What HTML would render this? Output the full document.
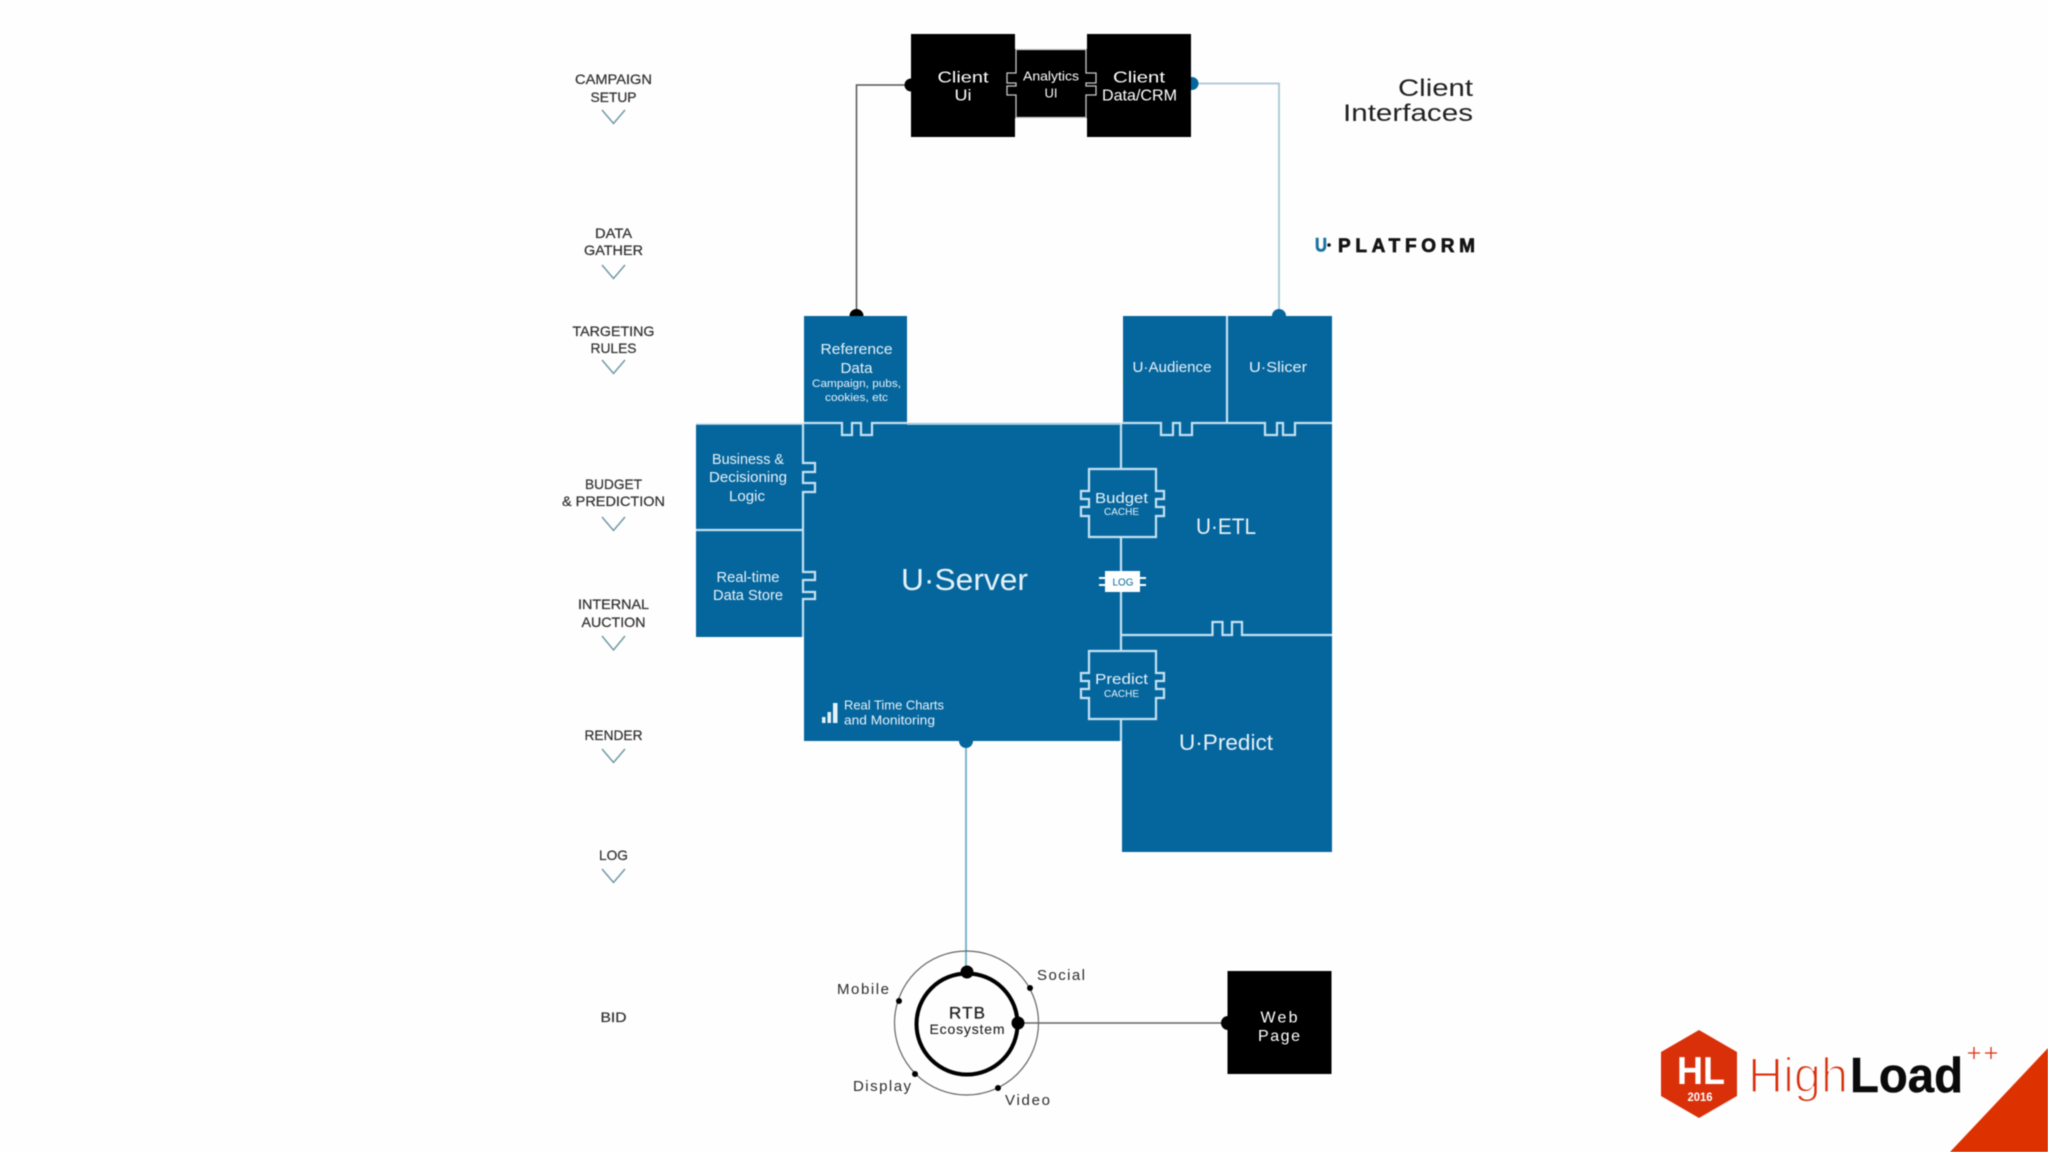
<!DOCTYPE html>
<html lang="en">
<head>
<meta charset="utf-8">
<title>U Platform diagram</title>
<style>
html,body{margin:0;padding:0;background:#fefefe;width:2048px;height:1152px;overflow:hidden}
svg{display:block;filter:blur(0.45px)}
text{font-family:"Liberation Sans",sans-serif}
.s{fill:#333;font-size:14px;text-anchor:middle;stroke:#333;stroke-width:.25px}
.w{fill:#e6f1f7;text-anchor:middle}
.b{fill:#fff;text-anchor:middle}
.k{fill:#2c2c2c;text-anchor:middle;font-size:15px}
.chev{fill:none;stroke:#7199a6;stroke-width:1.5}
.ln{fill:none;stroke:#c4e2f2;stroke-width:2.2}
</style>
</head>
<body>
<svg width="2048" height="1152" viewBox="0 0 2048 1152" xmlns="http://www.w3.org/2000/svg">
<rect width="2048" height="1152" fill="#fefefe"/>

<!-- left stage labels -->
<g>
<text class="s" x="613.5" y="84" textLength="77" lengthAdjust="spacingAndGlyphs">CAMPAIGN</text>
<text class="s" x="613.5" y="102" textLength="46" lengthAdjust="spacingAndGlyphs">SETUP</text>
<path class="chev" d="M602 110L613.5 123.500L625 110"/>
<text class="s" x="613.5" y="238" textLength="37" lengthAdjust="spacingAndGlyphs">DATA</text>
<text class="s" x="613.5" y="255" textLength="59" lengthAdjust="spacingAndGlyphs">GATHER</text>
<path class="chev" d="M602 265L613.5 278.500L625 265"/>
<text class="s" x="613.5" y="336" textLength="82" lengthAdjust="spacingAndGlyphs">TARGETING</text>
<text class="s" x="613.5" y="353" textLength="46" lengthAdjust="spacingAndGlyphs">RULES</text>
<path class="chev" d="M602 360L613.5 373.500L625 360"/>
<text class="s" x="613.5" y="489" textLength="57" lengthAdjust="spacingAndGlyphs">BUDGET</text>
<text class="s" x="613.5" y="506" textLength="103" lengthAdjust="spacingAndGlyphs">&amp; PREDICTION</text>
<path class="chev" d="M602 517L613.5 530.500L625 517"/>
<text class="s" x="613.5" y="609" textLength="71" lengthAdjust="spacingAndGlyphs">INTERNAL</text>
<text class="s" x="613.5" y="627" textLength="64" lengthAdjust="spacingAndGlyphs">AUCTION</text>
<path class="chev" d="M602 636L613.5 650L625 636"/>
<text class="s" x="613.5" y="740" textLength="58" lengthAdjust="spacingAndGlyphs">RENDER</text>
<path class="chev" d="M602 749L613.5 762.500L625 749"/>
<text class="s" x="613.5" y="860" textLength="29" lengthAdjust="spacingAndGlyphs">LOG</text>
<path class="chev" d="M602 869L613.5 882.500L625 869"/>
<text class="s" x="613.5" y="1022" textLength="26" lengthAdjust="spacingAndGlyphs">BID</text>
</g>

<!-- connectors -->
<path d="M911 85H856.500V313" fill="none" stroke="#555" stroke-width="1.5"/>
<path d="M1191 83.500H1279V313" fill="none" stroke="#a9c8d4" stroke-width="1.8"/>
<path d="M966 741V972" fill="none" stroke="#7db6cb" stroke-width="2"/>
<path d="M1018 1023H1228" fill="none" stroke="#666" stroke-width="1.5"/>
<circle cx="911" cy="85" r="6.500" fill="#000"/>
<circle cx="1192" cy="83.500" r="6.500" fill="#05669e"/>
<circle cx="856.500" cy="316" r="7" fill="#000"/>
<circle cx="1279" cy="316" r="7" fill="#05669e"/>
<circle cx="966" cy="741" r="7" fill="#05669e"/>

<!-- client boxes -->
<rect x="911" y="34" width="104" height="103" fill="#000"/>
<rect x="1087" y="34" width="104" height="103" fill="#000"/>
<rect x="1015" y="49" width="72" height="69" fill="#000"/>
<path d="M1016 49.500H1086V73H1096V83H1086V86H1096V95H1086V117.500H1016V95H1007V86H1016V83H1007V73H1016Z" fill="#000" stroke="#c8c8c8" stroke-width="1.300"/>
<text class="b" x="963" y="82.500" font-size="16" textLength="51" lengthAdjust="spacingAndGlyphs">Client</text>
<text class="b" x="963" y="100.500" font-size="16" textLength="17" lengthAdjust="spacingAndGlyphs">Ui</text>
<text class="b" x="1051" y="80.500" font-size="13" textLength="56" lengthAdjust="spacingAndGlyphs">Analytics</text>
<text class="b" x="1051" y="97.500" font-size="13" textLength="13" lengthAdjust="spacingAndGlyphs">UI</text>
<text class="b" x="1139" y="82.500" font-size="16" textLength="52" lengthAdjust="spacingAndGlyphs">Client</text>
<text class="b" x="1139.500" y="100.500" font-size="16" textLength="75" lengthAdjust="spacingAndGlyphs">Data/CRM</text>

<!-- titles -->
<text x="1473" y="96" font-size="24" fill="#222" text-anchor="end" textLength="75" lengthAdjust="spacingAndGlyphs">Client</text>
<text x="1473" y="121" font-size="24" fill="#222" text-anchor="end" textLength="130" lengthAdjust="spacingAndGlyphs">Interfaces</text>
<text x="1315" y="251.500" font-size="19" font-weight="700" fill="#1a729f" stroke="#1a729f" stroke-width=".6" textLength="12" lengthAdjust="spacingAndGlyphs">U</text>
<circle cx="1329" cy="245" r="1.800" fill="#111"/>
<text x="1338" y="252" font-size="19" font-weight="700" fill="#151515" stroke="#151515" stroke-width=".7" textLength="137" lengthAdjust="spacing">PLATFORM</text>

<!-- blue blocks -->
<g fill="#05669e">
<rect x="804" y="316" width="103" height="108"/>
<rect x="1123" y="316" width="209" height="108"/>
<rect x="696" y="424" width="108" height="213"/>
<rect x="804" y="423" width="318" height="318"/>
<rect x="1122" y="423" width="210" height="429"/>
</g>

<!-- block dividers and notches -->
<g>
<path class="ln" d="M804 423H842V435H852V423H861V435H872V423H907"/>
<path class="ln" d="M1122 423H1161V435H1173V423H1180V435H1192V423H1265V435H1277V423H1283V435H1295V423H1332"/>
<path class="ln" d="M907 424H1122" style="stroke-width:1.500"/>
<path class="ln" d="M696 424H804" style="stroke-width:1.500"/>
<path class="ln" d="M1227 316V423"/>
<path class="ln" d="M803 423V463H815V472H803V483H815V492H803V572H815V580H803V592H815V599H803V637"/>
<path class="ln" d="M696 530H803"/>
<path class="ln" d="M1121 423V741"/>
<path class="ln" d="M1121 635H1212.500V622H1222.500V635H1232V622H1242V635H1332"/>
</g>
<path d="M1089 469H1156V491H1164V499H1156V507H1164V516H1156V537H1089V516H1081V507H1089V499H1081V491H1089Z" fill="#05669e" stroke="#c4e2f2" stroke-width="2.200"/>
<path d="M1089 651H1156V673H1164V681H1156V689H1164V698H1156V719H1089V698H1081V689H1089V681H1081V673H1089Z" fill="#05669e" stroke="#c4e2f2" stroke-width="2.200"/>
<rect x="1105" y="571" width="35" height="21" fill="#fff"/>
<path d="M1099 578H1105M1099 585H1105M1140 578H1146M1140 585H1146" stroke="#fff" stroke-width="2" fill="none"/>

<!-- block text -->
<g>
<text class="w" x="856.500" y="354" font-size="14.500" textLength="72" lengthAdjust="spacingAndGlyphs">Reference</text>
<text class="w" x="856.500" y="373" font-size="14.500" textLength="32" lengthAdjust="spacingAndGlyphs">Data</text>
<text class="w" x="856.500" y="387" font-size="11" textLength="89" lengthAdjust="spacingAndGlyphs">Campaign, pubs,</text>
<text class="w" x="856.500" y="401" font-size="11" textLength="63" lengthAdjust="spacingAndGlyphs">cookies, etc</text>
<text class="w" x="1172" y="372" font-size="14.500" textLength="79" lengthAdjust="spacingAndGlyphs">U·Audience</text>
<text class="w" x="1278" y="372" font-size="14.500" textLength="58" lengthAdjust="spacingAndGlyphs">U·Slicer</text>
<text class="w" x="748" y="464" font-size="14.500" textLength="72" lengthAdjust="spacingAndGlyphs">Business &amp;</text>
<text class="w" x="748" y="482" font-size="14.500" textLength="78" lengthAdjust="spacingAndGlyphs">Decisioning</text>
<text class="w" x="747" y="501" font-size="14.500" textLength="36" lengthAdjust="spacingAndGlyphs">Logic</text>
<text class="w" x="748" y="582" font-size="14.500" textLength="63" lengthAdjust="spacingAndGlyphs">Real-time</text>
<text class="w" x="748" y="600" font-size="14.500" textLength="70" lengthAdjust="spacingAndGlyphs">Data Store</text>
<text class="w" x="964.500" y="590" font-size="31" textLength="127" lengthAdjust="spacingAndGlyphs">U·Server</text>
<text class="w" x="1226" y="534" font-size="22" textLength="60" lengthAdjust="spacingAndGlyphs">U·ETL</text>
<text class="w" x="1226" y="750" font-size="22" textLength="94" lengthAdjust="spacingAndGlyphs">U·Predict</text>
<text class="w" x="1121.500" y="503" font-size="15" textLength="53" lengthAdjust="spacingAndGlyphs">Budget</text>
<text class="w" x="1121.500" y="515" font-size="10.500" textLength="35" lengthAdjust="spacingAndGlyphs">CACHE</text>
<text class="w" x="1121.500" y="684" font-size="15" textLength="53" lengthAdjust="spacingAndGlyphs">Predict</text>
<text class="w" x="1121.500" y="697" font-size="10.500" textLength="35" lengthAdjust="spacingAndGlyphs">CACHE</text>
<text x="1123" y="585.500" font-size="10" fill="#05669e" text-anchor="middle" textLength="21" lengthAdjust="spacingAndGlyphs">LOG</text>
<text x="844" y="709.500" font-size="12.500" fill="#e6f1f7" textLength="100" lengthAdjust="spacingAndGlyphs">Real Time Charts</text>
<text x="844" y="724.500" font-size="12.500" fill="#e6f1f7" textLength="91" lengthAdjust="spacingAndGlyphs">and Monitoring</text>
</g>
<rect x="822" y="717" width="3.500" height="6" fill="#e6f1f7"/>
<rect x="827.500" y="712" width="3.500" height="11" fill="#e6f1f7"/>
<rect x="833" y="703" width="4.500" height="20" fill="#e6f1f7"/>

<!-- RTB -->
<circle cx="966.500" cy="1023" r="72" fill="none" stroke="#666" stroke-width="1.200"/>
<circle cx="967" cy="1024" r="50.500" fill="none" stroke="#000" stroke-width="4"/>
<circle cx="967" cy="972" r="6.500" fill="#000"/>
<circle cx="1018" cy="1023" r="6.500" fill="#000"/>
<circle cx="1030" cy="988" r="3" fill="#000"/>
<circle cx="899" cy="1001" r="3" fill="#000"/>
<circle cx="915" cy="1074" r="3" fill="#000"/>
<circle cx="998" cy="1088" r="3" fill="#000"/>
<text x="967" y="1018.500" font-size="17" fill="#222" text-anchor="middle" stroke="#222" stroke-width=".3" textLength="36" lengthAdjust="spacing">RTB</text>
<text x="967" y="1034" font-size="14" fill="#222" text-anchor="middle" stroke="#222" stroke-width=".1" textLength="75" lengthAdjust="spacing">Ecosystem</text>
<text class="k" x="863" y="994" textLength="52" lengthAdjust="spacing">Mobile</text>
<text class="k" x="1061" y="980" textLength="48" lengthAdjust="spacing">Social</text>
<text class="k" x="882" y="1091" textLength="58" lengthAdjust="spacing">Display</text>
<text class="k" x="1027.500" y="1105" textLength="45" lengthAdjust="spacing">Video</text>

<!-- web page -->
<rect x="1227.500" y="971" width="104" height="103" fill="#000"/>
<circle cx="1228" cy="1023" r="7" fill="#000"/>
<text class="b" x="1279" y="1022.500" font-size="16" textLength="37" lengthAdjust="spacing">Web</text>
<text class="b" x="1279" y="1041" font-size="16" textLength="42" lengthAdjust="spacing">Page</text>

<!-- HighLoad logo -->
<polygon points="1950,1152 2048,1048 2048,1152" fill="#dd3100"/>
<polygon points="1699,1030 1737,1052 1737,1096 1699,1118 1661,1096 1661,1052" fill="#d9300a"/>
<text x="1701" y="1084" font-size="39" font-weight="700" fill="#fff" text-anchor="middle" textLength="48" lengthAdjust="spacingAndGlyphs">HL</text>
<text x="1700" y="1101" font-size="12" font-weight="700" fill="#fff" text-anchor="middle" textLength="25" lengthAdjust="spacingAndGlyphs">2016</text>
<text x="1748" y="1092" font-size="49" fill="#d9300a" stroke="#fefefe" stroke-width="1.800" paint-order="fill stroke" textLength="100" lengthAdjust="spacingAndGlyphs">High</text>
<text x="1850" y="1092" font-size="49" font-weight="700" fill="#0a0a0a" stroke="#0a0a0a" stroke-width=".5" textLength="113" lengthAdjust="spacingAndGlyphs">Load</text>
<path d="M1968 1053H1980M1974 1047V1059M1985 1053H1997M1991 1047V1059" stroke="#d9300a" stroke-width="1.300" fill="none"/>
</svg>
</body>
</html>
